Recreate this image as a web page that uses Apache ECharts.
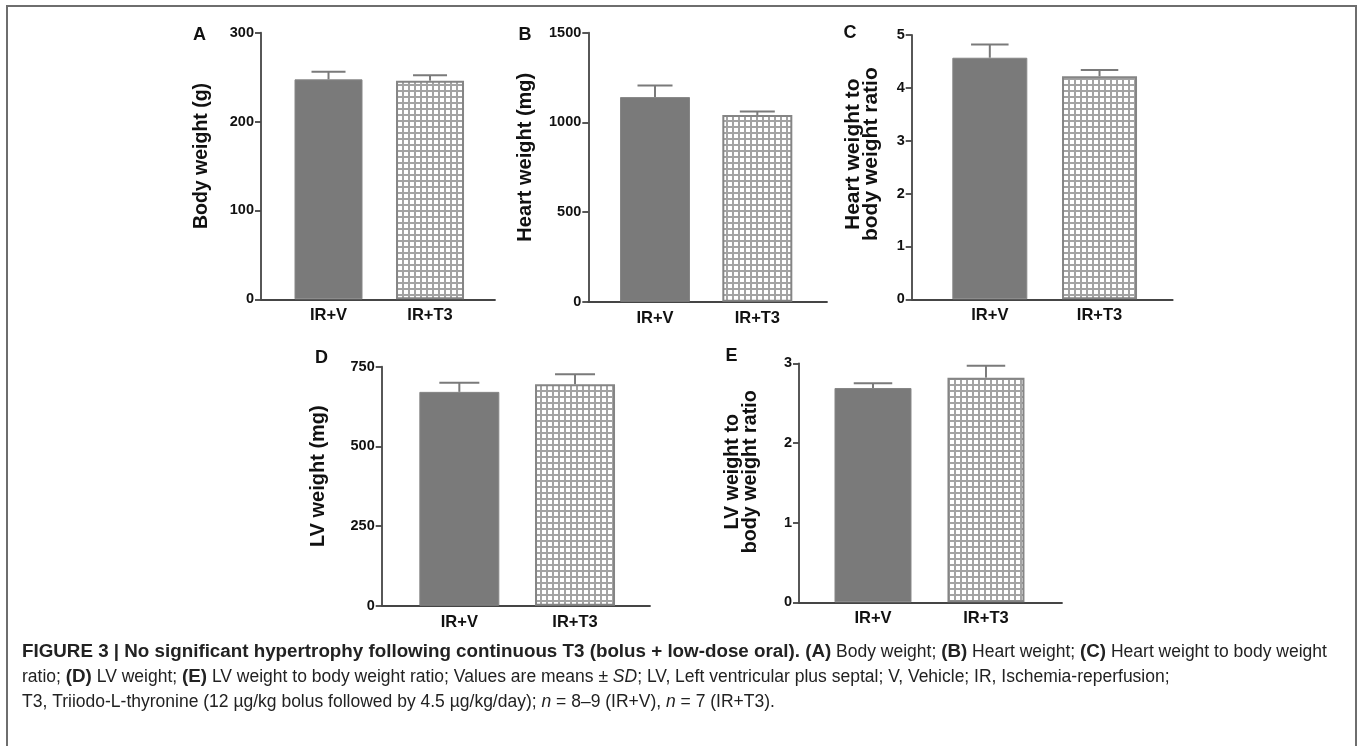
<!DOCTYPE html>
<html>
<head>
<meta charset="utf-8">
<script src="https://cdn.jsdelivr.net/npm/echarts@6/dist/echarts.min.js"></script>
<style>
html,body{margin:0;padding:0;background:#fff;}
#chart{width:1360px;height:746px;}
</style>
</head>
<body>
<div id="chart"></div>
<script>
// ---------------- DATA ----------------
const categories = ['IR+V', 'IR+T3'];

const bodyWeight     = [247.5, 246];
const bodyWeightSD   = [8.5, 6];

const heartWeight    = [1141, 1041];
const heartWeightSD  = [64, 19];

const heartBodyRatio   = [4.57, 4.22];
const heartBodyRatioSD = [0.25, 0.12];

const lvWeight       = [671, 695];
const lvWeightSD     = [29, 31];

const lvBodyRatio    = [2.69, 2.82];
const lvBodyRatioSD  = [0.06, 0.15];

const panelLetters = ['A', 'B', 'C', 'D', 'E'];
const axisTitles = [
  'Body weight (g)',
  'Heart weight (mg)',
  'Heart weight to\nbody weight ratio',
  'LV weight (mg)',
  'LV weight to\nbody weight ratio'
];
const yMaxes     = [300, 1500, 5, 750, 3];
const yIntervals = [100, 500, 1, 250, 1];

// ---------------- LAYOUT / STYLE ----------------
const panels = [
  {vals: bodyWeight, sds: bodyWeightSD, grid:{left:261, top:32.7, width:234, height:266.6}, xr:[-0.665,1.640], barW:68, nameGap:49, nameSize:19.5, lh:20, namePad:20, letter:[193,26]},
  {vals: heartWeight, sds: heartWeightSD, grid:{left:588.3, top:32.7, width:238.7, height:269}, xr:[-0.652,1.681], barW:70, nameGap:53, nameSize:20, lh:20, namePad:20, letter:[518.5,26]},
  {vals: heartBodyRatio, sds: heartBodyRatioSD, grid:{left:911.7, top:35, width:261, height:264.3}, xr:[-0.712,1.667], barW:75, nameGap:31, nameSize:21, lh:18.5, namePad:26, letter:[843.5,24]},
  {vals: lvWeight, sds: lvWeightSD, grid:{left:381.7, top:366.7, width:268.3, height:239}, xr:[-0.671,1.648], barW:80, nameGap:53, nameSize:20, lh:20, namePad:20, letter:[315,349]},
  {vals: lvBodyRatio, sds: lvBodyRatioSD, grid:{left:799, top:363.3, width:263, height:239}, xr:[-0.655,1.673], barW:77, nameGap:39, nameSize:19.7, lh:18.5, namePad:22, letter:[725.5,347.5]}
];

const AXIS_COLOR = '#454545';
const FONT = '"Liberation Sans", Arial, Helvetica, sans-serif';

function makeHatch() {
  const c = document.createElement('canvas');
  c.width = 6; c.height = 6;
  const g = c.getContext('2d');
  g.fillStyle = '#ffffff'; g.fillRect(0, 0, 6, 6);
  g.fillStyle = '#a3a3a3';
  g.fillRect(0, 0, 6, 2);
  g.fillRect(0, 0, 2, 6);
  return c;
}
const hatch = makeHatch();

const darkStyle  = {color: '#7a7a7a', borderColor: '#868686', borderWidth: 1};
const hatchStyle = {color: {image: hatch, repeat: 'repeat'}, borderColor: '#858585', borderWidth: 2};

const grids = [], xAxes = [], yAxes = [], series = [], titles = [];

panels.forEach((p, i) => {
  grids.push(Object.assign({containLabel: false}, p.grid));
  xAxes.push({
    type: 'value', gridIndex: i, min: p.xr[0], max: p.xr[1],
    axisLine: {show: true, onZero: false, lineStyle: {color: AXIS_COLOR, width: 1.8}},
    axisTick: {show: false},
    splitLine: {show: false},
    axisLabel: {
      show: true, customValues: categories.map((c, j) => j),
      formatter: v => categories[Math.round(v)] || '',
      margin: 8, color: '#111', fontFamily: FONT, fontWeight: 'bold', fontSize: 16.5
    }
  });
  yAxes.push({
    type: 'value', gridIndex: i, min: 0, max: yMaxes[i], interval: yIntervals[i],
    name: axisTitles[i], nameLocation: 'middle', nameGap: p.nameGap,
    nameTextStyle: {fontFamily: FONT, fontWeight: 'bold', fontSize: p.nameSize, color: '#111', lineHeight: p.lh, padding: [0, 0, 0, p.namePad]},
    axisLine: {show: true, onZero: false, lineStyle: {color: AXIS_COLOR, width: 1.8}},
    axisTick: {show: true, inside: false, length: 6, lineStyle: {color: AXIS_COLOR, width: 1.8}},
    splitLine: {show: false},
    axisLabel: {margin: 7, color: '#111', fontFamily: FONT, fontWeight: 'bold', fontSize: 14.5,
                formatter: v => String(v)}
  });
  series.push({
    type: 'bar', xAxisIndex: i, yAxisIndex: i, barWidth: p.barW,
    data: categories.map((c, j) => ({value: [j, p.vals[j]], itemStyle: j === 0 ? darkStyle : hatchStyle})),
    silent: true, animation: false, z: 2
  });
  series.push({
    type: 'custom', xAxisIndex: i, yAxisIndex: i,
    data: categories.map((c, j) => [j, p.vals[j], p.sds[j]]),
    encode: {x: 0, y: 1},
    renderItem: (params, api) => {
      const x = api.value(0), m = api.value(1), sd = api.value(2);
      const p0 = api.coord([x, m]);
      const p1 = api.coord([x, m + sd]);
      const hw = p.barW * 0.25;
      return {type: 'group', children: [
        {type: 'line', shape: {x1: p0[0], y1: p0[1], x2: p1[0], y2: p1[1]}, style: {stroke: '#7a7a7a', lineWidth: 2}},
        {type: 'line', shape: {x1: p1[0] - hw, y1: p1[1], x2: p1[0] + hw, y2: p1[1]}, style: {stroke: '#7a7a7a', lineWidth: 2}}
      ]};
    },
    silent: true, animation: false, z: 3
  });
  titles.push({
    text: panelLetters[i], left: p.letter[0], top: p.letter[1], padding: 0,
    textStyle: {fontFamily: FONT, fontWeight: 'bold', fontSize: 18, color: '#111'}
  });
});

// ---------------- CAPTION ----------------
const BOLD_SIZE = 18.8, REG_SIZE = 17.5;
const rich = {
  b: {fontFamily: FONT, fontWeight: 'bold', fontSize: BOLD_SIZE, color: '#222'},
  r: {fontFamily: FONT, fontWeight: 'normal', fontSize: REG_SIZE, color: '#222'},
  i: {fontFamily: FONT, fontWeight: 'normal', fontStyle: 'italic', fontSize: REG_SIZE, color: '#222'}
};
const captionLines = [
  '{b|FIGURE 3 | No significant hypertrophy following continuous T3 (bolus + low-dose oral). (A)}{r| Body weight; }{b|(B)}{r| Heart weight; }{b|(C)}{r| Heart weight to body weight}',
  '{r|ratio; }{b|(D)}{r| LV weight; }{b|(E)}{r| LV weight to body weight ratio; Values are means ± }{i|SD}{r|; LV, Left ventricular plus septal; V, Vehicle; IR, Ischemia-reperfusion;}',
  '{r|T3, Triiodo-L-thyronine (12 µg/kg bolus followed by 4.5 µg/kg/day); }{i|n}{r| = 8–9 (IR+V), }{i|n}{r| = 7 (IR+T3).}'
];
const captionY = [652, 677, 702];

const graphic = [
  {type: 'rect', silent: true, shape: {x: 7, y: 6, width: 1349, height: 780},
   style: {fill: 'none', stroke: '#6e6e6e', lineWidth: 2}, z: 0}
];
captionLines.forEach((t, k) => {
  graphic.push({type: 'text', silent: true, x: 22, y: captionY[k],
    style: {text: t, rich: rich, verticalAlign: 'middle', align: 'left', fill: '#222',
            fontFamily: FONT, fontSize: REG_SIZE}});
});

const chart = echarts.init(document.getElementById('chart'), null, {renderer: 'canvas'});
chart.setOption({
  animation: false,
  backgroundColor: '#ffffff',
  title: titles,
  grid: grids,
  xAxis: xAxes,
  yAxis: yAxes,
  series: series,
  graphic: graphic
});
</script>
</body>
</html>
